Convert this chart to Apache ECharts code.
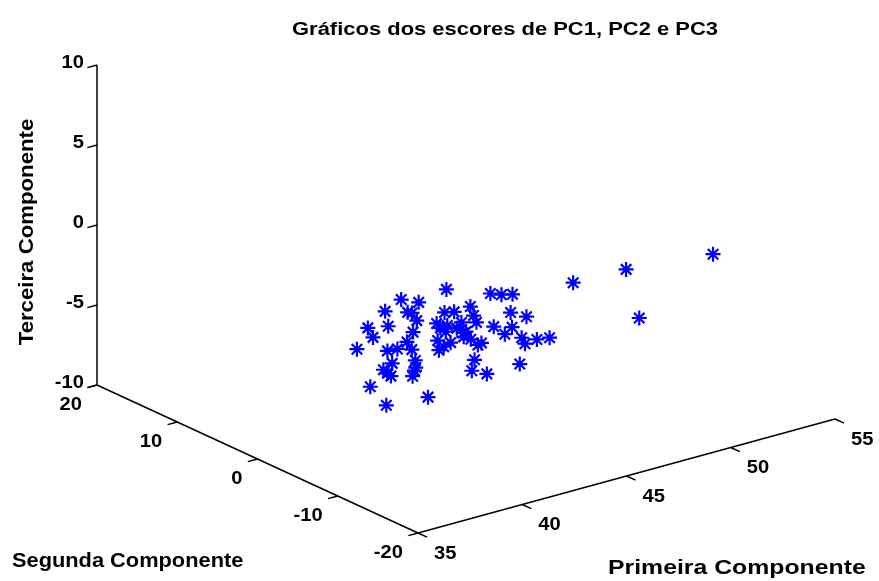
<!DOCTYPE html>
<html>
<head>
<meta charset="utf-8">
<script src="https://cdn.jsdelivr.net/npm/echarts@6/dist/echarts.min.js"></script>
<style>
html, body { margin: 0; padding: 0; background: #fff; }
#chart { width: 879px; height: 581px; }
</style>
</head>
<body>
<div id="chart"></div>
<script>
// scores (PC1, PC2, PC3)
var pc1 = [45.6, 45.4, 46.7, 48.0, 48.6, 44.2, 43.5, 44.2, 42.2, 42.9, 45.2, 43.2, 46.9, 45.6, 47.9, 41.1, 45.5, 42.6, 40.5, 45.9,
           44.1, 41.7, 47.1, 44.9, 39.0, 44.0, 44.8, 44.1, 48.4, 46.9, 46.7, 48.4, 42.1, 45.8, 46.0, 44.2, 48.6, 39.0, 42.0, 39.4,
           42.4, 43.7, 44.8, 43.1, 41.8, 43.0, 39.5, 43.3, 41.4, 40.9, 42.2, 46.0, 44.5, 38.1, 40.1, 38.1, 49.6, 53.0, 51.0, 43.0,
           46.1, 45.0, 44.7, 47.2, 40.1, 41.4, 44.9, 42.0];
var pc2 = [4, -2, 0, 2, -4, 6, 2, 8, 0, -6, 2, -2, 4, -4, 0, -4, 0, 6, -2, 6,
           0, -8, 2, -6, -4, 4, 2, -2, 4, -2, -6, 0, -4, 4, 2, -4, 2, -2, 2, -6,
           0, 0, -2, -6, -2, 4, -4, 2, 0, -4, -8, 0, -8, -6, -8, -8, -8, -10, -6, -2,
           4, 0, 2, 6, -6, -2, 6, 2];
var pc3 = [-4.1, -2.9, -3.9, -4.8, -2.9, -4.7, -3.7, -5.9, -3.4, -1.9, -4.9, -3.3, -6.2, -3.7, -5.7, -2.6, -5.2, -5.9, -3.2, -6.8,
           -4.9, -2.0, -6.5, -3.9, -2.9, -6.2, -6.0, -4.9, -7.9, -6.2, -5.2, -7.3, -4.2, -7.5, -6.9, -5.1, -8.1, -4.1, -6.2, -3.3,
           -5.8, -6.3, -5.9, -5.3, -5.8, -7.8, -5.1, -7.9, -7.1, -6.0, -5.2, -8.6, -5.6, -5.2, -6.1, -5.9, -1.5, -1.3, -5.5, -4.2,
           -6.7, -5.6, -6.9, -8.1, -1.3, -4.5, -9.2, -7.6];

var pc1Ticks = [35, 40, 45, 50, 55];
var pc2Ticks = [-20, -10, 0, 10, 20];
var pc3Ticks = [-10, -5, 0, 5, 10];

var lim1 = [35, 55], lim2 = [-20, 20], lim3 = [-10, 10];

// fixed view: box corner (min,min,min) and one screen vector per axis
var origin = [418, 533];
var e1 = [417, -114], e2 = [-321, -148], e3 = [0, -320];

function proj(a, b, c) {
	var t1 = (a - lim1[0]) / (lim1[1] - lim1[0]);
	var t2 = (b - lim2[0]) / (lim2[1] - lim2[0]);
	var t3 = (c - lim3[0]) / (lim3[1] - lim3[0]);
	return [origin[0] + t1 * e1[0] + t2 * e2[0] + t3 * e3[0],
	        origin[1] + t1 * e1[1] + t2 * e2[1] + t3 * e3[1]];
}
function unit(v, len) {
	var n = Math.sqrt(v[0] * v[0] + v[1] * v[1]);
	return [v[0] / n * len, v[1] / n * len];
}

var font = 'Liberation Sans';
var points = pc1.map(function (v, i) { return proj(v, pc2[i], pc3[i]); });

function label(text, x, y, size, sx, align, rot) {
	return {
		type: 'text', x: x, y: y, rotation: rot || 0, scaleX: sx,
		style: { text: text, fill: '#000', fontSize: size, fontWeight: 'bold',
		         fontFamily: font, align: align, verticalAlign: 'middle' }
	};
}

function axisLine(p, q) {
	return {
		type: 'line', data: [p, q], symbol: 'none', silent: true, z: 1,
		lineStyle: { color: '#000', width: 1.5 }
	};
}

function tickSeries(items, dir, off, align) {
	return {
		type: 'custom', coordinateSystem: 'cartesian2d', silent: true, z: 2,
		data: items,
		renderItem: function (params, api) {
			var p = api.coord([api.value(0), api.value(1)]);
			return {
				type: 'group',
				children: [
					{ type: 'line', shape: { x1: p[0], y1: p[1], x2: p[0] + dir[0], y2: p[1] + dir[1] },
					  style: { stroke: '#000', lineWidth: 1.5 } },
					label(String(api.value(2)), p[0] + off[0], p[1] + off[1], 18, 1.12, align)
				]
			};
		}
	};
}

var tick1 = pc1Ticks.map(function (t) { var p = proj(t, lim2[0], lim3[0]); return [p[0], p[1], t]; });
var tick2 = pc2Ticks.map(function (t) { var p = proj(lim1[0], t, lim3[0]); return [p[0], p[1], t]; });
var tick3 = pc3Ticks.map(function (t) { var p = proj(lim1[0], lim2[1], t); return [p[0], p[1], t]; });

var chart = echarts.init(document.getElementById('chart'));
var option = {
	backgroundColor: '#fff',
	animation: false,
	grid: { left: 0, right: 0, top: 0, bottom: 0 },
	xAxis: { type: 'value', min: 0, max: 879, show: false },
	yAxis: { type: 'value', min: 0, max: 581, inverse: true, show: false },
	graphic: [
		label('Gráficos dos escores de PC1, PC2 e PC3', 505, 30, 18, 1.22, 'center'),
		label('Terceira Componente', 27, 232, 20, 1.11, 'center', Math.PI / 2),
		label('Segunda Componente', 12, 561, 20, 1.09, 'left'),
		label('Primeira Componente', 608, 568, 20, 1.24, 'left')
	],
	series: [
		axisLine(proj(lim1[0], lim2[0], lim3[0]), proj(lim1[1], lim2[0], lim3[0])),
		axisLine(proj(lim1[0], lim2[0], lim3[0]), proj(lim1[0], lim2[1], lim3[0])),
		axisLine(proj(lim1[0], lim2[1], lim3[0]), proj(lim1[0], lim2[1], lim3[1])),
		tickSeries(tick1, unit([-e2[0], -e2[1]], 10), [16, 21], 'left'),
		tickSeries(tick2, unit([-e1[0], -e1[1]], 10), [-15, 20], 'right'),
		tickSeries(tick3, unit([-e1[0], -e1[1]], 10), [-13, -2], 'right'),
		{
			type: 'scatter', data: points, z: 3, silent: true,
			symbol: 'path://M0,-10L0,10M-10,0L10,0M-7,-7L7,7M-7,7L7,-7',
			symbolSize: 15,
			itemStyle: { color: '#0000ff', borderColor: '#0000ff', borderWidth: 2.2, opacity: 1 }
		}
	]
};
chart.setOption(option);
</script>
</body>
</html>
